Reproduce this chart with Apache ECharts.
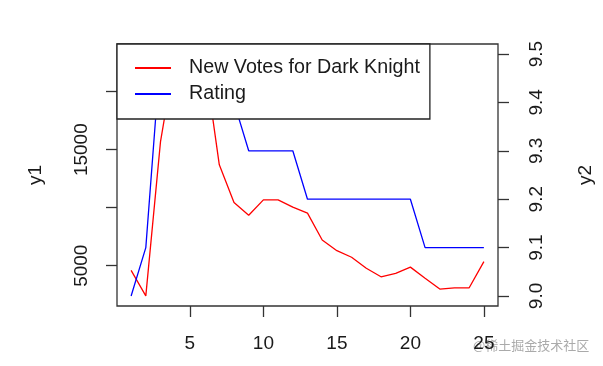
<!DOCTYPE html>
<html>
<head>
<meta charset="utf-8">
<script src="https://cdn.jsdelivr.net/npm/echarts@6/dist/echarts.min.js"></script>
<style>
html,body{margin:0;padding:0;background:#fff;}
#chart{width:603px;height:366px;}
</style>
</head>
<body>
<div id="chart"></div>
<script>
var xValues = [1,2,3,4,5,6,7,8,9,10,11,12,13,14,15,16,17,18,19,20,21,22,23,24,25];
var newVotes = [4600,2400,15700,23200,22900,22700,13700,10450,9350,10680,10680,10050,9530,7220,6300,5730,4780,4050,4340,4880,3930,2990,3100,3100,5350];
var rating = [9.0,9.1,9.5,9.5,9.5,9.4,9.4,9.4,9.3,9.3,9.3,9.3,9.2,9.2,9.2,9.2,9.2,9.2,9.2,9.2,9.1,9.1,9.1,9.1,9.1];
var xTicks = [5,10,15,20,25];
var y1Ticks = [5000,10000,15000,20000];
var y1Labels = [5000,15000];
var y2Ticks = [9.0,9.1,9.2,9.3,9.4,9.5];
var seriesNames = ['New Votes for Dark Knight','Rating'];

var FONT = '"Liberation Sans", Arial, sans-serif';
var TXT = '#1a1a1a';
var chart = echarts.init(document.getElementById('chart'), null, {renderer:'canvas'});

function pairs(ys){ return xValues.map(function(x,i){ return [x, ys[i]]; }); }

chart.setOption({
  animation:false,
  backgroundColor:'#fff',
  grid:{left:117, right:103, top:44, bottom:60, show:true, borderColor:'#333', borderWidth:1.3, backgroundColor:'transparent'},
  xAxis:{
    type:'value', min:0.04, max:25.96,
    axisLine:{show:false},
    splitLine:{show:false},
    axisTick:{show:true, length:11, lineStyle:{color:'#333', width:1.3}, customValues:xTicks},
    axisLabel:{show:true, customValues:xTicks, margin:28, color:TXT, fontFamily:FONT, fontSize:19,
      formatter:function(v){ return String(v); }}
  },
  yAxis:[{
    type:'value', min:1530, max:24110, position:'left',
    name:'y1', nameLocation:'middle', nameGap:72, nameRotate:90,
    nameTextStyle:{color:TXT, fontFamily:FONT, fontSize:19},
    axisLine:{show:false}, splitLine:{show:false},
    axisTick:{show:true, length:11, lineStyle:{color:'#333', width:1.3}, customValues:y1Ticks},
    axisLabel:{show:true, customValues:y1Labels, rotate:90, margin:26, color:TXT, fontFamily:FONT, fontSize:19,
      formatter:function(v){ return String(Math.round(v)); }}
  },{
    type:'value', min:8.9793, max:9.5207, position:'right',
    name:'y2', nameLocation:'middle', nameGap:78, nameRotate:90,
    nameTextStyle:{color:TXT, fontFamily:FONT, fontSize:19},
    axisLine:{show:false}, splitLine:{show:false},
    axisTick:{show:true, length:11, lineStyle:{color:'#333', width:1.3}, customValues:y2Ticks},
    axisLabel:{show:true, customValues:y2Ticks, rotate:90, margin:29, color:TXT, fontFamily:FONT, fontSize:19,
      formatter:function(v){ return (+v).toFixed(1); }}
  }],
  legend:{
    orient:'vertical', left:117, top:44,
    backgroundColor:'#fff', borderColor:'#222', borderWidth:1.3,
    padding:[14,10,15,18],
    itemGap:6, itemWidth:36, itemHeight:2, icon:'rect',
    textStyle:{color:TXT, fontFamily:FONT, fontSize:19.7, lineHeight:19, padding:[0,0,0,13]},
    data:seriesNames
  },
  series:[{
    name:seriesNames[0], type:'line', yAxisIndex:0, data:pairs(newVotes),
    symbol:'none', color:'#ff0000', lineStyle:{color:'#ff0000', width:1.3}
  },{
    name:seriesNames[1], type:'line', yAxisIndex:1, data:pairs(rating),
    symbol:'none', color:'#0000ff', lineStyle:{color:'#0000ff', width:1.3}
  }],
  graphic:[{
    type:'text', left:473, top:339,
    style:{text:'@稀土掘金技术社区', fill:'#aaa', font:'13px "Noto Sans CJK SC", sans-serif'}
  }]
});
</script>
</body>
</html>
